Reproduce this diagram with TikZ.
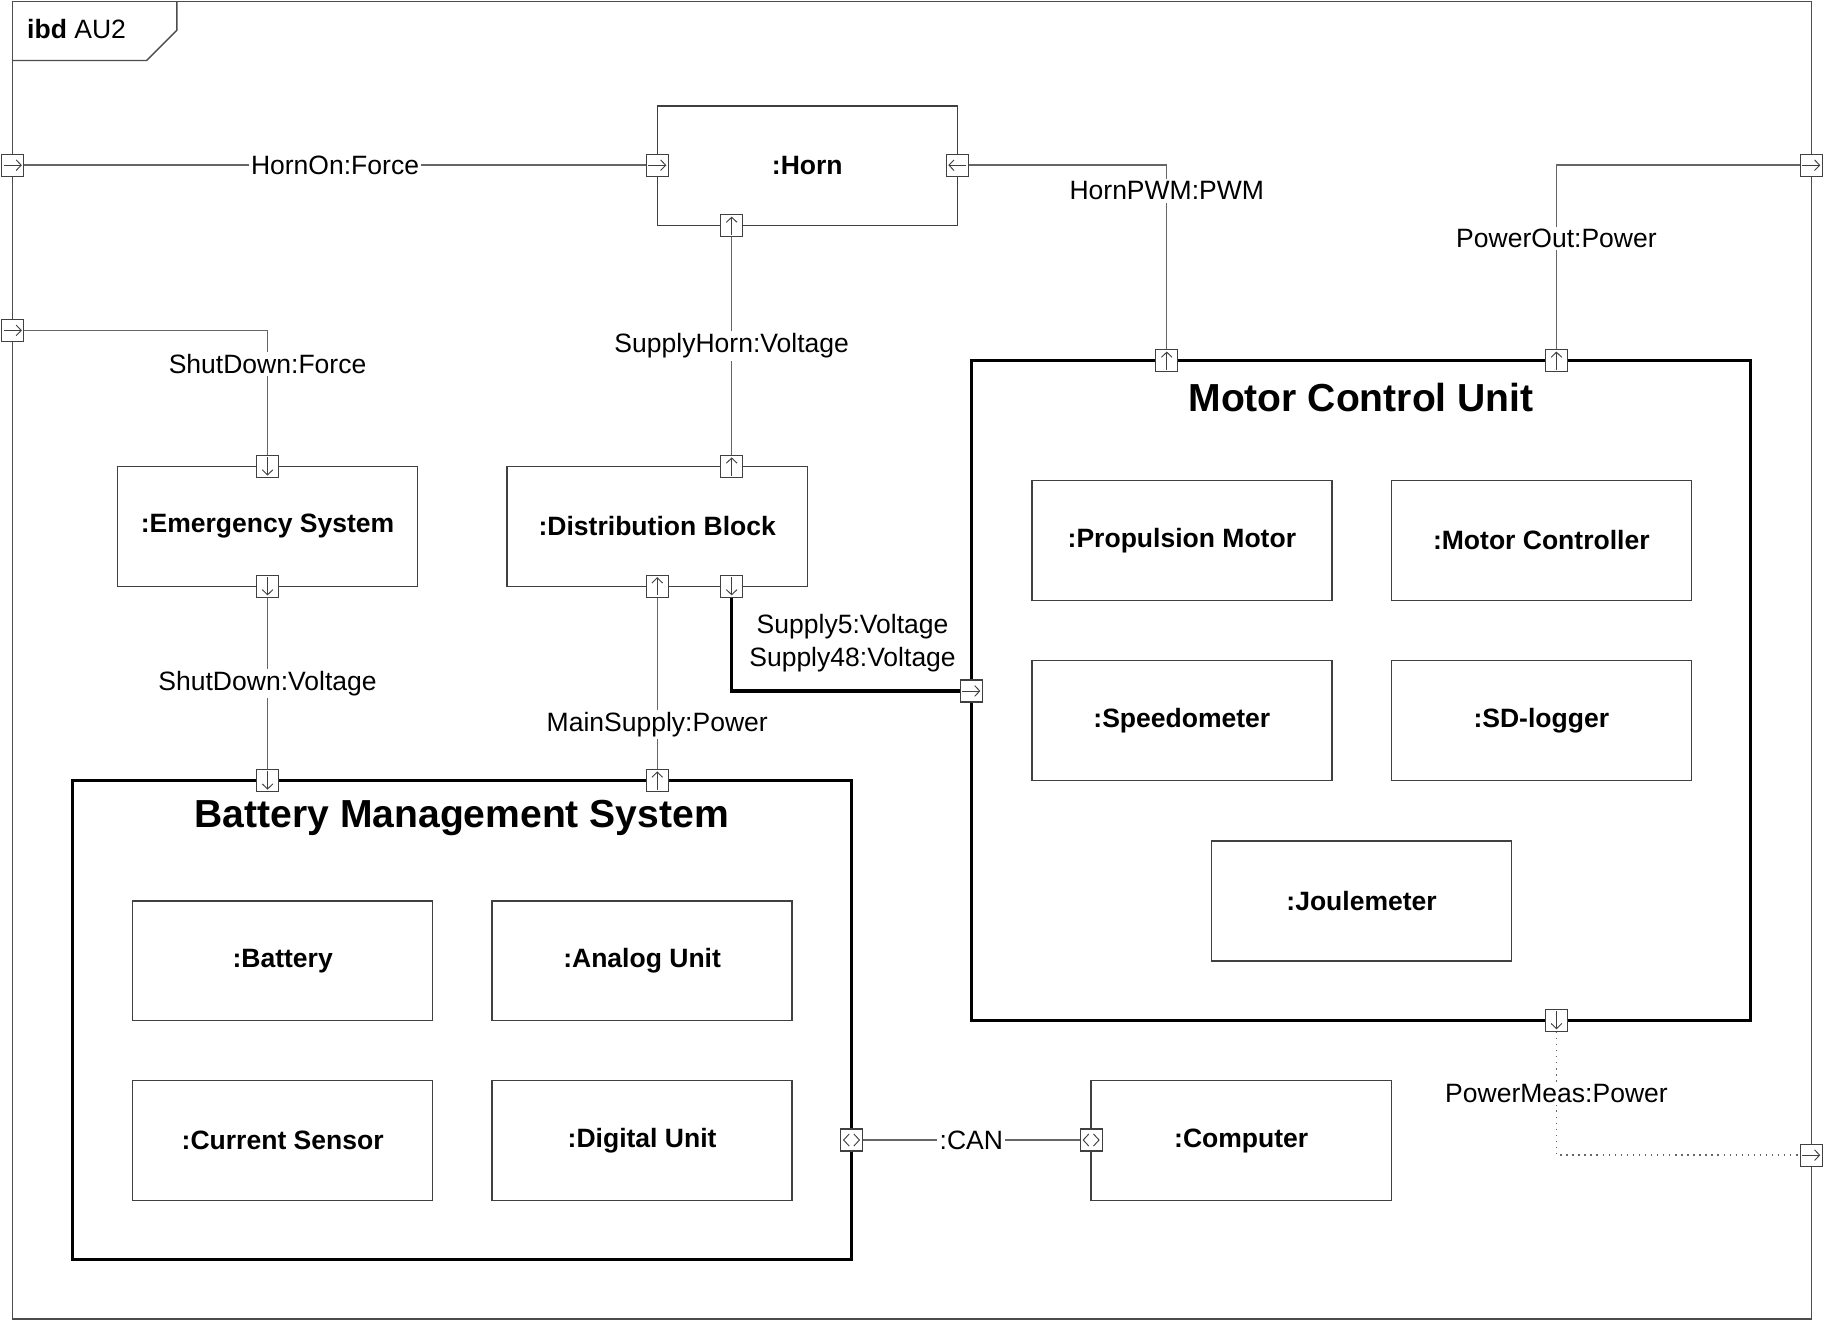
\documentclass[tikz,border=0pt]{standalone}
\usepackage{fontspec}
\setmainfont{Liberation Sans}
\usetikzlibrary{arrows.meta}

% port with a flow arrow: name, position, direction
\newcommand{\flowport}[3]{%
  \node[port] (#1) at (#2) {};
  \draw[portarrow] (#1.center) ++(#3+180:3.9pt) -- ++(#3:7.8pt);
}
% bidirectional port
\newcommand{\busport}[2]{%
  \node[port] (#1) at (#2) {};
  \draw[portline] (#1.center) ++(-1pt,2.6pt) -- ++(-2.4pt,-2.6pt) -- ++(2.4pt,-2.6pt);
  \draw[portline] (#1.center) ++(1pt,2.6pt) -- ++(2.4pt,-2.6pt) -- ++(-2.4pt,-2.6pt);
}

\begin{document}
\begin{tikzpicture}[x=0.5pt,y=-0.5pt,
    lbl/.style={font=\fontsize{11.4}{14}\selectfont, fill=white, inner sep=1pt},
    part/.style={draw=black!75, line width=0.6pt, minimum width=129pt, minimum height=51.5pt,
      inner sep=0pt, font=\fontsize{11.4}{14}\selectfont\bfseries},
    system/.style={draw=black, line width=1.3pt, inner sep=0pt},
    systitle/.style={font=\fontsize{16.8}{20}\selectfont\bfseries},
    port/.style={draw=black!75, fill=white, line width=0.5pt, minimum size=9.5pt, inner sep=0pt},
    portarrow/.style={draw=black!75, line width=0.4pt, -{Straight Barb[length=2.2pt,width=4.6pt]}},
    portline/.style={draw=black!75, line width=0.4pt},
    wire/.style={draw=black!60, line width=0.6pt},
    supply/.style={draw=black, line width=1.4pt}]
  \useasboundingbox (0,0) rectangle (1568,1136);

  % frame
  \draw[draw=black!70, line width=0.6pt] (11,1.5) rectangle (1557,1134);
  \draw[draw=black!70, line width=0.6pt] (11,52) -- (126,52) -- (152,26) -- (152,1.5);
  \node[anchor=west, font=\fontsize{11.4}{14}\selectfont, inner sep=0pt] (ibd) at (23,25) {\textbf{ibd} AU2};

  % parts
  \node[part] (horn) at (694,142.5) {:Horn};
  \node[part] (emergency) at (230,452.5) {:Emergency System};
  \node[part] (distribution) at (565,452.5) {:Distribution Block};
  \node[part] (computer) at (1067,980.5) {:Computer};

  % motor control unit
  \node[system, minimum width=335pt, minimum height=283.5pt] (mcu) at (1170,593.5) {};
  \node[systitle] (mcutitle) at (1170,342) {Motor Control Unit};
  \node[part] (propulsion) at (1016,464.5) {:Propulsion Motor};
  \node[part] (controller) at (1325,464.5) {:Motor Controller};
  \node[part] (speedometer) at (1016,619.5) {:Speedometer};
  \node[part] (sdlogger) at (1325,619.5) {:SD-logger};
  \node[part] (joulemeter) at (1170.5,774.5) {:Joulemeter};

  % battery management system
  \node[system, minimum width=335pt, minimum height=206pt] (bms) at (397,877) {};
  \node[systitle] (bmstitle) at (397,703) {Battery Management System};
  \node[part] (battery) at (243,826) {:Battery};
  \node[part] (analog) at (552,826) {:Analog Unit};
  \node[part] (current) at (243,980.5) {:Current Sensor};
  \node[part] (digital) at (552,980.5) {:Digital Unit};

  % ports
  \flowport{frameHorn}{11,142}{0}
  \flowport{frameShut}{11,284}{0}
  \flowport{framePower}{1557,142}{0}
  \flowport{frameMeas}{1557,993}{0}
  \flowport{hornIn}{565,142}{0}
  \flowport{hornPwm}{823,142}{180}
  \flowport{hornSupply}{629,194}{90}
  \flowport{emIn}{230,401}{-90}
  \flowport{emOut}{230,504}{-90}
  \flowport{distHorn}{629,401}{90}
  \flowport{distMain}{565,504}{90}
  \flowport{distOut}{629,504}{-90}
  \flowport{mcuPwm}{1003,310}{90}
  \flowport{mcuPower}{1338,310}{90}
  \flowport{mcuSupply}{835,594}{0}
  \flowport{mcuMeas}{1338,877}{-90}
  \flowport{bmsShut}{230,671}{-90}
  \flowport{bmsMain}{565,671}{90}
  \busport{bmsCan}{732,980}
  \busport{compCan}{938,980}

  % connectors
  \draw[wire] (frameHorn) -- node[lbl] {HornOn:Force} (hornIn);
  \draw[wire] (frameShut) -| node[lbl, pos=0.635] {ShutDown:Force} (emIn);
  \draw[wire] (hornSupply) -- node[lbl] {SupplyHorn:Voltage} (distHorn);
  \draw[wire] (hornPwm) -| node[lbl, pos=0.57] {HornPWM:PWM} (mcuPwm);
  \draw[wire] (mcuPower) |- node[lbl, pos=0.3] {PowerOut:Power} (framePower);
  \draw[wire] (emOut) -- node[lbl] {ShutDown:Voltage} (bmsShut);
  \draw[wire] (distMain) -- node[lbl, pos=0.74] {MainSupply:Power} (bmsMain);
  \draw[supply] (distOut) |- node[lbl, pos=0.765, above=6.5pt, align=center, fill=none]
    {Supply5:Voltage\\Supply48:Voltage} (mcuSupply);
  \draw[wire] (bmsCan) -- node[lbl] {:CAN} (compCan);
  \draw[wire, dotted] (mcuMeas) |- node[lbl, pos=0.25] {PowerMeas:Power} (frameMeas);
\end{tikzpicture}
\end{document}
